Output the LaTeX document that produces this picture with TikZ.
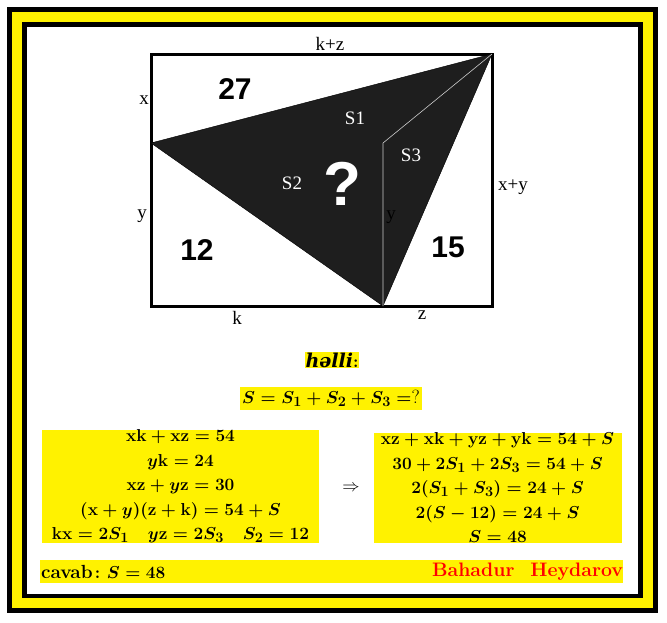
\documentclass[tikz,border=0pt]{standalone}
\usepackage{fontspec}
\usepackage{amsmath}
\usepackage{bm}
\newfontfamily\azfont{DejaVu Serif}
\newfontfamily\numfont{Liberation Sans}
\newfontfamily\figfont{Liberation Serif}
\usetikzlibrary{positioning}
\definecolor{markyellow}{RGB}{255,242,0}
\definecolor{darkfill}{RGB}{30,30,30}
\tikzset{lbl/.style = {font=\figfont\fontsize{19}{19}\selectfont, inner sep=0}}
\tikzset{slbl/.style = {white, font=\figfont\fontsize{19}{19}\selectfont, inner sep=0}}
\tikzset{area/.style = {font=\numfont\bfseries\fontsize{30}{30}\selectfont, inner sep=0}}
\tikzset{hl/.style = {fill=markyellow, inner sep=1pt, font=\boldmath\fontsize{19}{24.5}\selectfont}}

\begin{document}
\begin{tikzpicture}[x=1pt,y=-1pt]
        \useasboundingbox (0,0) rectangle (667,622);
        % frame
        \fill (7,7) rectangle (658,613);
        \fill [markyellow] (12,12) rectangle (653,608);
        \fill (22,22) rectangle (643,598);
        \fill [white] (27,27) rectangle (638,594);
        % figure
        \coordinate (A) at (151,54);
        \coordinate (B) at (492,54);
        \coordinate (C) at (492,306);
        \coordinate (D) at (151,306);
        \coordinate (E) at (151,143);
        \coordinate (F) at (383,143);
        \coordinate (G) at (383,306);
        \draw [line width=3pt] (A) rectangle (C);
        \draw [line width=2.5pt] (E) rectangle (G);
        \filldraw [darkfill, draw=black] (E) -- (B) -- (G) -- cycle;
        \draw [white!80!black, line width=0.6pt] (F) -- (B) (F) -- (G);
        \node [lbl] (kz) at (330,44) {k+z};
        \node [lbl] (xl) at (144,100) {x};
        \node [lbl] (yl) at (142,216) {y};
        \node [lbl] (yr) at (391,217) {y};
        \node [lbl] (xy) at (513,187) {x+y};
        \node [lbl] (kb) at (237,318) {k};
        \node [lbl] (zb) at (422,315) {z};
        \node [area] (a27) at (235,89) {27};
        \node [area] (a12) at (197,250) {12};
        \node [area] (a15) at (448,247) {15};
        \node [slbl] (s1) at (355,118) {S1};
        \node [slbl] (s2) at (292,183) {S2};
        \node [slbl] (s3) at (411,155) {S3};
        \node [white, inner sep=0, font=\numfont\bfseries\fontsize{62}{62}\selectfont] (q) at (342,184) {?};
        % solution
        \node [hl] (helli) at (332,360) {{\azfont\bfseries\itshape həlli}$:$};
        \node [hl, inner xsep=2pt, inner ysep=3pt] (goal) at (331,398.5) {$S=S_1+S_2+S_3=$?};
        \node [hl, text width=277pt, align=flush center, inner sep=0pt] (given) at (180.5,486.5) {%
            $\mathbf{xk}+\mathbf{xz}=54$\\
            $y\mathbf{k}=24$\\
            $\mathbf{xz}+y\mathbf{z}=30$\\
            $(\mathbf{x}+y)(\mathbf{z}+\mathbf{k})=54+S$\\
            $\mathbf{kx}=2S_1\quad y\mathbf{z}=2S_3\quad S_2=12$};
        \node [hl, text width=248pt, align=flush center, inner sep=0pt] (steps) at (497.5,487.5) {%
            $\mathbf{xz}+\mathbf{xk}+\mathbf{yz}+\mathbf{yk}=54+S$\\
            $30+2S_1+2S_3=54+S$\\
            $2(S_1+S_3)=24+S$\\
            $2(S-12)=24+S$\\
            $S=48$};
        \node [font=\fontsize{17}{17}\selectfont] (imp) at (351,488) {$\Rightarrow$};
        % answer
        \node [hl, minimum width=583pt, minimum height=23pt, inner sep=0pt] (bar) at (331.5,571.5) {};
        \node [anchor=west, inner sep=1pt, font=\boldmath\bfseries\fontsize{19}{19}\selectfont] (cavab) at (bar.west) {cavab$\colon S=48$};
        \node [anchor=east, inner sep=0pt, red, font=\bfseries\fontsize{19.5}{19.5}\selectfont] (author) at (bar.east) {Bahadur\hspace{16pt}Heydarov};
    \end{tikzpicture}
\end{document}
